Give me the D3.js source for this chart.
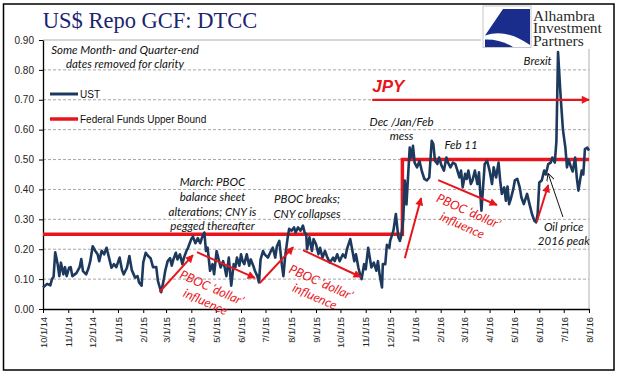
<!DOCTYPE html>
<html><head><meta charset="utf-8">
<script src="https://cdn.jsdelivr.net/npm/d3@7"></script>
<style>body{margin:0;background:#fff} svg{display:block}</style>
</head><body><svg id="c" width="618" height="381"></svg>
<script>
// ---------- DATA ----------
const ustDates = [
"2014-10-01","2014-10-06","2014-10-10","2014-10-12","2014-10-14","2014-10-16","2014-10-19","2014-10-21","2014-10-23","2014-10-26","2014-10-28","2014-10-30",
"2014-11-02","2014-11-04","2014-11-06","2014-11-11","2014-11-15","2014-11-17","2014-11-19","2014-11-23","2014-11-26","2014-11-28",
"2014-12-01","2014-12-04","2014-12-07","2014-12-09","2014-12-12","2014-12-15","2014-12-18","2014-12-21","2014-12-24","2014-12-27","2014-12-30",
"2015-01-03","2015-01-06","2015-01-08","2015-01-12","2015-01-15","2015-01-18","2015-01-22","2015-01-25","2015-01-27","2015-01-30",
"2015-02-01","2015-02-04","2015-02-07","2015-02-10","2015-02-13","2015-02-17","2015-02-19","2015-02-23","2015-02-26","2015-02-28",
"2015-03-03","2015-03-06","2015-03-08","2015-03-10","2015-03-13","2015-03-15","2015-03-18","2015-03-21","2015-03-23","2015-03-26","2015-03-28",
"2015-04-01","2015-04-03","2015-04-06","2015-04-09","2015-04-12","2015-04-14","2015-04-17","2015-04-19","2015-04-21","2015-04-24","2015-04-27","2015-04-29",
"2015-05-02","2015-05-04","2015-05-07","2015-05-10","2015-05-12","2015-05-14","2015-05-17","2015-05-20","2015-05-23","2015-05-25","2015-05-27","2015-05-30",
"2015-06-01","2015-06-03","2015-06-05","2015-06-08","2015-06-11","2015-06-13","2015-06-16","2015-06-18","2015-06-21","2015-06-23","2015-06-25","2015-06-28","2015-06-30",
"2015-07-04","2015-07-07","2015-07-10","2015-07-13","2015-07-15","2015-07-18","2015-07-21","2015-07-23","2015-07-25","2015-07-28","2015-07-30",
"2015-08-02","2015-08-05","2015-08-07","2015-08-10","2015-08-13","2015-08-16","2015-08-18","2015-08-20","2015-08-21","2015-08-24","2015-08-27","2015-08-29",
"2015-09-01","2015-09-04","2015-09-06","2015-09-09","2015-09-12","2015-09-15","2015-09-18","2015-09-22","2015-09-24","2015-09-27","2015-09-30",
"2015-10-04","2015-10-07","2015-10-09","2015-10-13","2015-10-15","2015-10-18","2015-10-20","2015-10-23","2015-10-25","2015-10-27","2015-10-30",
"2015-11-01","2015-11-04","2015-11-06","2015-11-08","2015-11-11","2015-11-14","2015-11-16","2015-11-18","2015-11-21","2015-11-22","2015-11-25","2015-11-27","2015-11-30",
"2015-12-01","2015-12-05","2015-12-08","2015-12-11","2015-12-13","2015-12-15","2015-12-17","2015-12-19","2015-12-21","2015-12-25","2015-12-27","2015-12-29","2015-12-31",
"2016-01-03","2016-01-06","2016-01-09","2016-01-12","2016-01-15","2016-01-18","2016-01-21","2016-01-23","2016-01-25","2016-01-28","2016-01-30",
"2016-02-02","2016-02-05","2016-02-08","2016-02-10","2016-02-13","2016-02-16","2016-02-19","2016-02-21","2016-02-24","2016-02-26","2016-02-28",
"2016-03-02","2016-03-04","2016-03-06","2016-03-09","2016-03-11","2016-03-14","2016-03-17","2016-03-19","2016-03-22","2016-03-24","2016-03-26","2016-03-29",
"2016-04-01","2016-04-04","2016-04-06","2016-04-09","2016-04-12","2016-04-14","2016-04-16","2016-04-19","2016-04-21","2016-04-23","2016-04-25","2016-04-27","2016-04-30",
"2016-05-02","2016-05-05","2016-05-08","2016-05-10","2016-05-13","2016-05-17","2016-05-20","2016-05-23","2016-05-26","2016-05-28","2016-05-30",
"2016-06-01","2016-06-04","2016-06-07","2016-06-09","2016-06-12","2016-06-15","2016-06-17","2016-06-20","2016-06-22","2016-06-24","2016-06-27","2016-06-30",
"2016-07-03","2016-07-05","2016-07-07","2016-07-10","2016-07-12","2016-07-15","2016-07-17","2016-07-19","2016-07-21","2016-07-23","2016-07-25","2016-07-27","2016-07-30",
"2016-08-01"];
const ustValues = [
0.072,0.084,0.079,0.100,0.108,0.190,0.150,0.110,0.155,0.116,0.140,0.110,
0.138,0.140,0.110,0.120,0.140,0.167,0.127,0.116,0.138,0.160,
0.210,0.195,0.183,0.160,0.195,0.183,0.205,0.172,0.138,0.150,0.140,
0.172,0.130,0.116,0.138,0.177,0.130,0.105,0.110,0.088,0.078,
0.155,0.188,0.177,0.170,0.140,0.140,0.094,0.056,0.095,0.128,
0.160,0.170,0.145,0.166,0.188,0.166,0.183,0.150,0.172,0.194,0.205,
0.234,0.242,0.220,0.237,0.220,0.238,0.256,0.194,0.205,0.128,0.150,0.116,
0.194,0.172,0.139,0.160,0.139,0.110,0.172,0.078,0.150,0.139,0.172,0.145,
0.183,0.160,0.150,0.183,0.145,0.166,0.145,0.128,0.110,0.089,0.166,0.194,0.183,
0.172,0.190,0.205,0.172,0.210,0.228,0.150,0.110,0.172,0.234,0.268,
0.262,0.273,0.256,0.273,0.262,0.279,0.256,0.250,0.200,0.240,0.194,0.234,
0.217,0.183,0.205,0.172,0.194,0.172,0.155,0.172,0.160,0.183,0.160,
0.183,0.172,0.200,0.234,0.205,0.160,0.183,0.139,0.116,0.100,0.150,
0.133,0.205,0.172,0.139,0.155,0.128,0.160,0.116,0.072,0.150,0.150,0.215,0.205,
0.228,0.262,0.318,0.240,0.228,0.250,0.300,0.430,0.350,0.540,0.507,0.546,0.490,
0.474,0.495,0.460,0.435,0.430,0.440,0.563,0.552,0.496,0.485,0.507,
0.480,0.463,0.507,0.490,0.474,0.490,0.485,0.468,0.440,0.463,0.407,
0.452,0.435,0.463,0.418,0.430,0.463,0.418,0.457,0.329,0.407,0.485,0.496,
0.463,0.418,0.474,0.440,0.490,0.430,0.385,0.407,0.362,0.410,0.351,0.368,0.400,
0.430,0.435,0.407,0.374,0.351,0.385,0.351,0.318,0.295,0.290,0.318,
0.423,0.430,0.463,0.450,0.485,0.490,0.507,0.490,0.560,0.860,0.720,0.600,
0.540,0.474,0.500,0.474,0.460,0.507,0.440,0.396,0.430,0.463,0.450,0.535,0.540,
0.530];
const fedDates = ["2014-10-01","2015-12-16","2016-08-01"];
const fedValues = [0.25, 0.50, 0.50];
const yTicks = [0,0.1,0.2,0.3,0.4,0.5,0.6,0.7,0.8,0.9];
const xTickDates = ["2014-10-01","2014-11-01","2014-12-01","2015-01-01","2015-02-01","2015-03-01","2015-04-01","2015-05-01","2015-06-01","2015-07-01","2015-08-01","2015-09-01","2015-10-01","2015-11-01","2015-12-01","2016-01-01","2016-02-01","2016-03-01","2016-04-01","2016-05-01","2016-06-01","2016-07-01","2016-08-01"];
const xTickLabels = ["10/1/14","11/1/14","12/1/14","1/1/15","2/1/15","3/1/15","4/1/15","5/1/15","6/1/15","7/1/15","8/1/15","9/1/15","10/1/15","11/1/15","12/1/15","1/1/16","2/1/16","3/1/16","4/1/16","5/1/16","6/1/16","7/1/16","8/1/16"];
const seriesNames = ["UST","Federal Funds Upper Bound"];

// ---------- CHART ----------
const NAVY = "#1d3a5e", RED = "#e8161c";
const ANN = "Lato, 'Open Sans', sans-serif";
const parse = d3.timeParse("%Y-%m-%d");
const svg = d3.select("#c");
const x = d3.scaleTime().domain([parse("2014-10-01"), parse("2016-08-01")]).range([43, 589]);
const y = d3.scaleLinear().domain([0, 0.9]).range([309, 40]);
const P = (d, v) => [x(parse(d)), y(v)];

svg.append("rect").attr("width",618).attr("height",381).attr("fill","#fff");

const defs = svg.append("defs");
defs.append("marker").attr("id","ar").attr("viewBox","0 0 10 10").attr("refX",9).attr("refY",5)
  .attr("markerWidth",9).attr("markerHeight",8).attr("markerUnits","userSpaceOnUse").attr("orient","auto")
  .append("path").attr("d","M0,0 L10,5 L0,10 z").attr("fill",RED);
defs.append("marker").attr("id","ab").attr("viewBox","0 0 10 10").attr("refX",9).attr("refY",5)
  .attr("markerWidth",8).attr("markerHeight",8).attr("markerUnits","userSpaceOnUse").attr("orient","auto")
  .append("path").attr("d","M0,0 L10,5 L0,10").attr("fill","none").attr("stroke","#111").attr("stroke-width",1.2);

// gridlines
svg.append("g").selectAll("line").data(yTicks.filter(v => v > 0 && v < 0.9)).join("line")
  .attr("x1",43).attr("x2",589).attr("y1",d=>y(d)).attr("y2",d=>y(d))
  .attr("stroke","#a6a6a6").attr("stroke-width",1).attr("stroke-dasharray","3,2");
// plot border top/right
svg.append("path").attr("d",`M43,${y(0.9)}H589V${y(0)}`).attr("fill","none").attr("stroke","#b0b0b0").attr("stroke-width",1);

// axes
const ya = svg.append("g").attr("transform","translate(43,0)")
  .call(d3.axisLeft(y).tickValues(yTicks).tickFormat(d3.format(".2f")).tickSize(4).tickSizeOuter(0));
ya.select(".domain").attr("stroke","#000").attr("stroke-width",1.3);
ya.selectAll(".tick line").attr("stroke","#000");
ya.selectAll("text").attr("font-family","'Liberation Sans', Arial, sans-serif").attr("font-size",10).attr("fill","#222").attr("x",-9);

const xa = svg.append("g").attr("transform",`translate(0,${y(0)})`)
  .call(d3.axisBottom(x).tickValues(xTickDates.map(parse)).tickFormat((d,i)=>xTickLabels[i]).tickSize(4).tickSizeOuter(0));
xa.select(".domain").attr("stroke","#000").attr("stroke-width",1.3);
xa.selectAll(".tick line").attr("stroke","#000");
xa.selectAll("text").attr("font-family","'Liberation Sans', Arial, sans-serif").attr("font-size",9.3).attr("fill","#222")
  .attr("transform","rotate(-90)").attr("text-anchor","end").attr("x",-8).attr("y",0).attr("dy","0.35em");

// series
const fed = fedDates.map((d,i)=>({d:parse(d), v:fedValues[i]}));
svg.append("path").datum(fed).attr("fill","none").attr("stroke",RED).attr("stroke-width",3.5)
  .attr("d", d3.line().x(p=>x(p.d)).y(p=>y(p.v)).curve(d3.curveStepAfter));
const ust = ustDates.map((d,i)=>({d:parse(d), v:ustValues[i]}));
svg.append("path").datum(ust).attr("fill","none").attr("stroke",NAVY).attr("stroke-width",2.6).attr("stroke-linejoin","round")
  .attr("d", d3.line().x(p=>x(p.d)).y(p=>y(p.v)));

// arrows
function arrow(a, b, color, marker, w){
  const p1 = P(a[0],a[1]), p2 = P(b[0],b[1]);
  svg.append("line").attr("x1",p1[0]).attr("y1",p1[1]).attr("x2",p2[0]).attr("y2",p2[1])
    .attr("stroke",color).attr("stroke-width",w).attr("marker-end",`url(#${marker})`);
}
arrow(["2015-02-21",0.057],["2015-04-03",0.18],RED,"ar",2);
arrow(["2015-04-08",0.19],["2015-06-18",0.104],RED,"ar",2);
arrow(["2015-06-24",0.087],["2015-08-04",0.207],RED,"ar",2);
arrow(["2015-08-16",0.197],["2015-10-26",0.107],RED,"ar",2);
arrow(["2015-12-19",0.17],["2016-01-08",0.371],RED,"ar",2);
arrow(["2016-01-29",0.431],["2016-04-10",0.348],RED,"ar",2);
arrow(["2016-05-29",0.292],["2016-06-12",0.415],RED,"ar",2);
arrow(["2015-11-09",0.70],["2016-08-01",0.70],RED,"ar",2.2);
arrow(["2016-06-30",0.308],["2016-06-12",0.452],"#111","ab",1);

// text annotations
function label(d, v, lines, opts={}){
  const [px,py] = P(d,v);
  const g = svg.append("g").attr("transform",`translate(${px},${py})` + (opts.rot?` rotate(${opts.rot})`:""));
  const t = g.append("text").attr("font-family",opts.font||ANN).attr("font-style","italic")
    .attr("font-weight",opts.bold?"bold":"normal").attr("font-size",opts.size||11.5)
    .attr("fill",opts.color||"#111").attr("text-anchor",opts.anchor||"middle");
  lines.forEach((s,i)=>t.append("tspan").attr("x",0).attr("y",i*(opts.lh||14.5)).text(s));
}
label("2015-04-27",0.411,["March: PBOC","balance sheet","alterations; CNY is","pegged thereafter"],{lh:14.7});
label("2015-08-21",0.355,["PBOC breaks;","CNY collapses"],{lh:15});
label("2015-12-15",0.612,["Dec /Jan/Feb","mess"],{lh:14});
label("2016-02-26",0.535,["Feb 11"]);
label("2016-05-30",0.816,["Brexit"]);
label("2016-07-01",0.261,["Oil price","2016 peak"],{lh:14});
label("2015-11-09",0.726,["JPY"],{anchor:"start",bold:true,size:17,color:RED,font:"'Liberation Sans', Arial, sans-serif"});
label("2015-04-24",0.058,["PBOC \u2018dollar\u2019","influence"],{rot:24,color:RED,size:12.5,lh:15.5});
label("2015-09-05",0.076,["PBOC \u2018dollar\u2019","influence"],{rot:24,color:RED,size:12.5,lh:15.5});
label("2016-03-04",0.314,["PBOC \u2018dollar\u2019","influence"],{rot:24,color:RED,size:12.5,lh:15.5});

// legend + note
const note = svg.append("text").attr("font-family",ANN).attr("font-style","italic").attr("font-size",11.5).attr("fill","#111").attr("text-anchor","middle");
note.append("tspan").attr("x",125).attr("y",54).text("Some Month- and Quarter-end");
note.append("tspan").attr("x",125).attr("y",68).text("dates removed for clarity");
const leg = svg.append("g");
[[NAVY,94,3],[RED,119,3.5]].forEach((c,i)=>{
  leg.append("line").attr("x1",50).attr("x2",78).attr("y1",c[1]).attr("y2",c[1]).attr("stroke",c[0]).attr("stroke-width",c[2]);
  leg.append("text").attr("x",80).attr("y",c[1]+3.6).attr("font-family","'Liberation Sans', Arial, sans-serif").attr("font-size",10).attr("fill","#111").text(seriesNames[i]);
});

// title
svg.append("text").attr("x",150).attr("y",28).attr("text-anchor","middle")
  .attr("font-family","'Liberation Serif','Times New Roman',serif").attr("font-size",22.5).attr("fill","#1c2472")
  .text("US$ Repo GCF: DTCC");

// logo
svg.append("rect").attr("x",481).attr("y",5).attr("width",132).attr("height",44).attr("fill","#fff");
svg.append("rect").attr("x",483).attr("y",6).attr("width",48).attr("height",41.5).attr("fill","#fff").attr("stroke","#c8c8c8").attr("stroke-width",1);
svg.append("path").attr("d","M503,9 L530,9 L530,45 Q506,28 485,35.5 Z").attr("fill","#1b2d8c");
svg.append("path").attr("d","M485,39.5 Q500,39 513,47 L485,47 Z").attr("fill","#1b2d8c");
const lt = svg.append("text").attr("font-family","'Liberation Serif','Times New Roman',serif").attr("font-size",15.5).attr("fill","#2a2a2a");
[["Alhambra",20.5],["Investment",33.3],["Partners",46]].forEach(r=>lt.append("tspan").attr("x",533).attr("y",r[1]).text(r[0]));

// frame
svg.append("rect").attr("x",3.5).attr("y",4).attr("width",610.5).attr("height",366).attr("fill","none").attr("stroke","#000").attr("stroke-width",1.5);
</script></body></html>
